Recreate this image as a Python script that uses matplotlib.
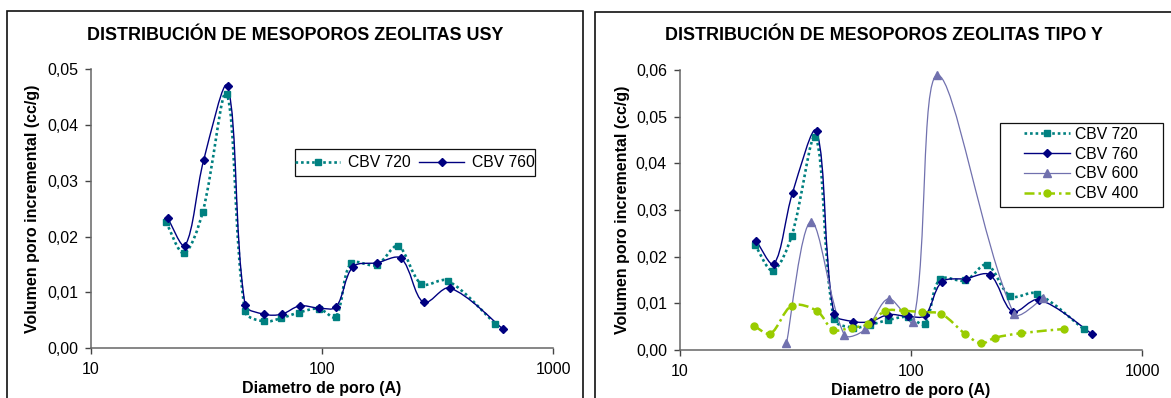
import numpy as np
import matplotlib
matplotlib.use('Agg')
import matplotlib.pyplot as plt
from matplotlib.path import Path
from matplotlib.patches import PathPatch, Rectangle
from matplotlib.lines import Line2D
from matplotlib.ticker import FuncFormatter, FixedLocator, NullLocator, FixedFormatter

plt.rcParams['font.family'] = ['Liberation Sans', 'DejaVu Sans']

# ---------------- data ----------------
titles = ["DISTRIBUCIÓN DE MESOPOROS ZEOLITAS USY", "DISTRIBUCIÓN DE MESOPOROS ZEOLITAS TIPO Y"]
xlabel = "Diametro de poro (A)"
ylabel = "Volumen poro incremental (cc/g)"
xticks = [10, 100, 1000]
xticklabels = ["10", "100", "1000"]
yticks_left = [0.00, 0.01, 0.02, 0.03, 0.04, 0.05]
yticks_right = [0.00, 0.01, 0.02, 0.03, 0.04, 0.05, 0.06]

d720 = [21.2, 25.3, 30.5, 38.7, 46.5, 56.3, 66.6, 79.4, 96.9, 114.7, 133.4, 172.1, 213.2, 269, 350, 560]
v720 = [0.0226, 0.0170, 0.0244, 0.0456, 0.0066, 0.0048, 0.0054, 0.0064, 0.0071, 0.0056, 0.0152, 0.0149, 0.0183, 0.0115, 0.0121, 0.0044]
d760 = [21.5, 25.6, 30.8, 39.1, 46.5, 56.3, 67.0, 80.0, 96.9, 115.0, 136.0, 172.6, 219.7, 275, 357, 608]
v760 = [0.0234, 0.0184, 0.0337, 0.0469, 0.0078, 0.0061, 0.0061, 0.0076, 0.0072, 0.0074, 0.0146, 0.0153, 0.0161, 0.0082, 0.0108, 0.0034]
d600 = [29.0, 37.0, 51.5, 63.6, 80.2, 102.6, 130.3, 278.5, 372.4]
v600 = [0.0014, 0.0275, 0.0033, 0.0044, 0.0110, 0.0061, 0.0589, 0.0078, 0.0111]
d400 = [21.0, 24.7, 30.6, 39.2, 46.2, 55.4, 65.5, 77.6, 93.3, 111.3, 135.5, 172.0, 201.0, 230.0, 298.0, 460.0]
v400 = [0.0052, 0.0035, 0.0095, 0.0084, 0.0043, 0.0048, 0.0055, 0.0084, 0.0084, 0.0081, 0.0077, 0.0034, 0.0014, 0.0026, 0.0036, 0.0045]

series = {
    "CBV 720": dict(x=d720, y=v720, color="#008080", ls=(0, (1.0, 1.1)), lw=1.9, marker="s", ms=4.6),
    "CBV 760": dict(x=d760, y=v760, color="#000080", ls="-", lw=1.0, marker="D", ms=4.4),
    "CBV 600": dict(x=d600, y=v600, color="#7171AE", ls="-", lw=0.9, marker="^", ms=6.0),
    "CBV 400": dict(x=d400, y=v400, color="#99CC00", ls=(0, (4.0, 1.6, 1.0, 1.6)), lw=1.8, marker="o", ms=5.0),
}

W, H = 1171, 398
fig = plt.figure(figsize=(W / 100, H / 100), dpi=100)


def fx(px):
    return px / W


def fy(py):
    return 1 - py / H


def smooth_path(xs, ys, sx, sy):
    """Chord-weighted cubic Bezier through the points, built in screen-like units."""
    X = np.log10(np.asarray(xs, float)) * sx
    Y = np.asarray(ys, float) * sy
    P = np.column_stack([X, Y])
    n = len(P)
    tang = np.zeros_like(P)
    for i in range(n):
        i0, i2 = max(i - 1, 0), min(i + 1, n - 1)
        tang[i] = P[i2] - P[i0]
    verts = [P[0]]
    codes = [Path.MOVETO]
    for i in range(n - 1):
        p1, p2 = P[i], P[i + 1]
        d12 = np.hypot(*(p2 - p1))
        # outgoing from p1
        i0 = max(i - 1, 0)
        d01 = np.hypot(*(p1 - P[i0]))
        w1 = d12 / (d01 + d12) if (d01 + d12) > 0 else 0.5
        c1 = p1 + tang[i] * w1 / 3 if i > 0 else p1 + (p2 - p1) / 3 * 0.5 + tang[i] * 0
        # incoming to p2
        i3 = min(i + 2, n - 1)
        d23 = np.hypot(*(P[i3] - p2))
        w2 = d12 / (d12 + d23) if (d12 + d23) > 0 else 0.5
        c2 = p2 - tang[i + 1] * w2 / 3 if i + 1 < n - 1 else p2 - (p2 - p1) / 3 * 0.5
        verts += [c1, c2, p2]
        codes += [Path.CURVE4] * 3
    verts = np.array(verts)
    verts[:, 0] = 10 ** (verts[:, 0] / sx)
    verts[:, 1] = verts[:, 1] / sy
    return Path(verts, codes)


def draw_panel(ax, names, yticks, sx, sy):
    for nm in names:
        s = series[nm]
        patch = PathPatch(smooth_path(s["x"], s["y"], sx, sy), facecolor="none", edgecolor=s["color"],
                          lw=s["lw"], linestyle=s["ls"], capstyle="butt")
        ax.add_patch(patch)
        ax.plot(s["x"], s["y"], linestyle="none", marker=s["marker"], ms=s["ms"],
                color=s["color"], mec=s["color"], zorder=3)
    ax.set_xscale("log")
    ax.set_xlim(10, 1000)
    ax.set_ylim(yticks[0], yticks[-1])
    ax.xaxis.set_major_locator(FixedLocator(xticks))
    ax.xaxis.set_major_formatter(FixedFormatter(xticklabels))
    ax.xaxis.set_minor_locator(NullLocator())
    ax.yaxis.set_major_locator(FixedLocator(yticks))
    ax.yaxis.set_major_formatter(FuncFormatter(lambda v, p: f"{v:.2f}".replace(".", ",")))
    for sp in ("top", "right"):
        ax.spines[sp].set_visible(False)
    for sp in ("left", "bottom"):
        ax.spines[sp].set_color("#666666")
        ax.spines[sp].set_linewidth(1.1)
    ax.tick_params(axis="x", direction="out", length=4, width=1, color="#444444", pad=6, labelsize=11.5)
    ax.tick_params(axis="y", direction="out", length=4, width=1, color="#444444", pad=5, labelsize=11.5)
    ax.set_xlabel(xlabel, fontsize=11.5, fontweight="bold")
    ax.set_ylabel(ylabel, fontsize=11.5, fontweight="bold")
    ax.xaxis.label.set_va("center")
    ax.yaxis.label.set_va("center")


def handles_for(names):
    hs = []
    for nm in names:
        s = series[nm]
        hs.append(Line2D([], [], color=s["color"], lw=s["lw"], linestyle=s["ls"], marker=s["marker"],
                         ms=s["ms"], mec=s["color"], dash_capstyle="butt"))
    return hs


# frames
fig.add_artist(Rectangle((fx(7.3), -0.05), fx(582.7 - 7.3), fy(10.7) + 0.05, transform=fig.transFigure,
                         fill=False, ec="#111111", lw=1.2))
fig.add_artist(Rectangle((fx(595), -0.05), fx(1173 - 595), fy(11.7) + 0.05, transform=fig.transFigure,
                         fill=False, ec="#111111", lw=1.2))

# left panel
axL = fig.add_axes([fx(90.7), fy(348.3), fx(553.3 - 90.7), (348.3 - 69) / H])
namesL = ["CBV 720", "CBV 760"]
draw_panel(axL, namesL, yticks_left, 231.3, 279.3 / 0.05)
axL.xaxis.set_label_coords(0.5, (348.3 - 389) / 279.3)
axL.yaxis.set_label_coords((32 - 90.7) / 462.6, 0.5)
fig.text(fx(295), fy(35), titles[0], ha="center", va="center", fontsize=12.9, fontweight="bold")
fig.add_artist(Rectangle((fx(295), fy(176)), fx(534.6 - 295), (176 - 149) / H, transform=fig.transFigure,
                         fill=False, ec="#111111", lw=0.9, zorder=5))
fig.legend(handles_for(namesL), namesL, loc="center", bbox_to_anchor=(fx(415), fy(162.5)),
           bbox_transform=fig.transFigure, ncol=2, frameon=False, fontsize=11.3,
           handlelength=2.9, handletextpad=0.5, columnspacing=0.5, borderpad=0.1)

# right panel
axR = fig.add_axes([fx(679.5), fy(350), fx(1142.3 - 679.5), (350 - 70) / H])
namesR = ["CBV 720", "CBV 760", "CBV 600", "CBV 400"]
draw_panel(axR, namesR, yticks_right, 231.3, 280 / 0.06)
axR.xaxis.set_label_coords(0.5, (350 - 390) / 280)
axR.yaxis.set_label_coords((622 - 679.5) / 462.8, 0.5)
fig.text(fx(884), fy(35), titles[1], ha="center", va="center", fontsize=12.9, fontweight="bold")
fig.add_artist(Rectangle((fx(1000), fy(206.7)), fx(1162.7 - 1000), (206.7 - 122.7) / H,
                         transform=fig.transFigure, fill=False, ec="#111111", lw=0.9, zorder=5))
fig.legend(handles_for(namesR), namesR, loc="center", bbox_to_anchor=(fx(1081.3), fy(164)),
           bbox_transform=fig.transFigure, ncol=1, frameon=False, fontsize=11.3,
           handlelength=2.9, handletextpad=0.35, labelspacing=0.3, borderpad=0.1)

fig.savefig("out.png", dpi=100)
